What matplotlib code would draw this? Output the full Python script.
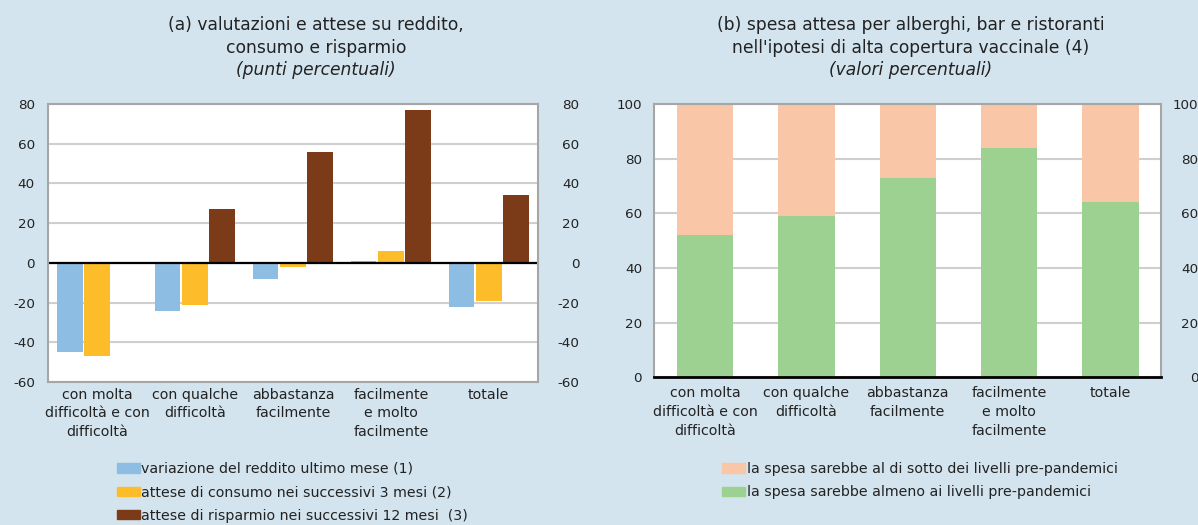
import numpy as np
from matplotlib import pyplot as plt
from matplotlib.patches import Patch

plt.rcParams['font.family'] = ['DejaVu Sans']
plt.rcParams['axes.unicode_minus'] = False
plt.rcParams['text.color'] = '#222222'
plt.rcParams['xtick.color'] = '#222222'
plt.rcParams['ytick.color'] = '#222222'

categories = ["con molta\ndifficoltà e con\ndifficoltà", "con qualche\ndifficoltà",
              "abbastanza\nfacilmente", "facilmente\ne molto\nfacilmente", "totale"]

# panel (a), punti percentuali
reddito = [-45, -24, -8, 1, -22]
consumo = [-47, -21, -2, 6, -19]
risparmio = [0, 27, 56, 77, 34]
labels_a = ["variazione del reddito ultimo mese (1)",
            "attese di consumo nei successivi 3 mesi (2)",
            "attese di risparmio nei successivi 12 mesi  (3)"]

# panel (b), valori percentuali
almeno = [52, 59, 73, 84, 64]
sotto = [100 - v for v in almeno]
labels_b = ["la spesa sarebbe al di sotto dei livelli pre-pandemici",
            "la spesa sarebbe almeno ai livelli pre-pandemici"]

BG = "#d3e4ee"
BLUE, YELLOW, BROWN = "#8dbde3", "#fdbd2b", "#7b3a18"
ORANGE, GREEN = "#f9c6a7", "#9dd192"
GRID = "#cfcfcf"
FS = 10.2

fig = plt.figure(figsize=(11.98, 5.25), dpi=100, facecolor=BG)


def style_axes(ax, ticks, lpad, rpad, xpad):
    ax.set_yticks(ticks)
    ax.tick_params(axis='y', length=0, labelsize=9.7, pad=lpad)
    ax.tick_params(axis='x', length=0, labelsize=FS, pad=xpad)
    ax.grid(axis='y', color=GRID, linewidth=1.5)
    ax.set_axisbelow(True)
    for s in ax.spines.values():
        s.set_color("#a6a6a6")
        s.set_linewidth(1.5)
    twin = ax.twinx()
    twin.set_ylim(ax.get_ylim())
    twin.set_yticks(ticks)
    twin.tick_params(axis='y', length=0, labelsize=9.7, pad=rpad)
    for lab in twin.get_yticklabels():
        lab.set_horizontalalignment('right')
    for s in twin.spines.values():
        s.set_visible(False)
    return twin


def title_lines(xc, lines):
    for (txt, italic), yp in zip(lines, (25, 48, 70)):
        fig.text(xc, 1 - yp / 525, txt, ha='center', va='center', fontsize=12.3,
                 style='italic' if italic else 'normal')


x = np.arange(len(categories))

# ---- (a)
ax1 = fig.add_axes([0.0401, 0.2724, 0.4088, 0.5295])
w = 0.262
ax1.bar(x - 0.279, reddito, w, color=BLUE)
ax1.bar(x, consumo, w, color=YELLOW)
ax1.bar(x + 0.279, risparmio, w, color=BROWN)
ax1.axhline(0, color="black", linewidth=1.6)
ax1.set_xlim(-0.5, 4.5)
ax1.set_ylim(-60, 80)
ax1.set_xticks(x)
ax1.set_xticklabels(categories, linespacing=1.45)
style_axes(ax1, range(-60, 81, 20), 9.5, 30, 4)
title_lines(316 / 1198, [("(a) valutazioni e attese su reddito,", False),
                         ("consumo e risparmio", False),
                         ("(punti percentuali)", True)])
fig.legend([Patch(color=c) for c in (BLUE, YELLOW, BROWN)], labels_a,
           loc='upper left', bbox_to_anchor=(116.7 / 1198, 1 - 462 / 525), frameon=False,
           fontsize=FS, handlelength=1.65, handleheight=0.65, handletextpad=0.1,
           labelspacing=0.66, borderaxespad=0, borderpad=0)

# ---- (b)
ax2 = fig.add_axes([0.5463, 0.281, 0.4228, 0.521])
ax2.bar(x, almeno, 0.557, color=GREEN)
ax2.bar(x, sotto, 0.557, bottom=almeno, color=ORANGE)
ax2.set_xlim(-0.5, 4.5)
ax2.set_ylim(0, 100)
ax2.set_xticks(x)
ax2.set_xticklabels(categories, linespacing=1.45)
style_axes(ax2, range(0, 101, 20), 9, 27, 6)
ax2.spines['bottom'].set_color("black")
ax2.spines['bottom'].set_linewidth(2)
title_lines(911 / 1198, [("(b) spesa attesa per alberghi, bar e ristoranti", False),
                         ("nell'ipotesi di alta copertura vaccinale (4)", False),
                         ("(valori percentuali)", True)])
fig.legend([Patch(color=c) for c in (ORANGE, GREEN)], labels_b,
           loc='upper left', bbox_to_anchor=(722 / 1198, 1 - 462 / 525), frameon=False,
           fontsize=FS, handlelength=1.65, handleheight=0.65, handletextpad=0.1,
           labelspacing=0.66, borderaxespad=0, borderpad=0)

fig.savefig("out.png", dpi=100, facecolor=BG)
